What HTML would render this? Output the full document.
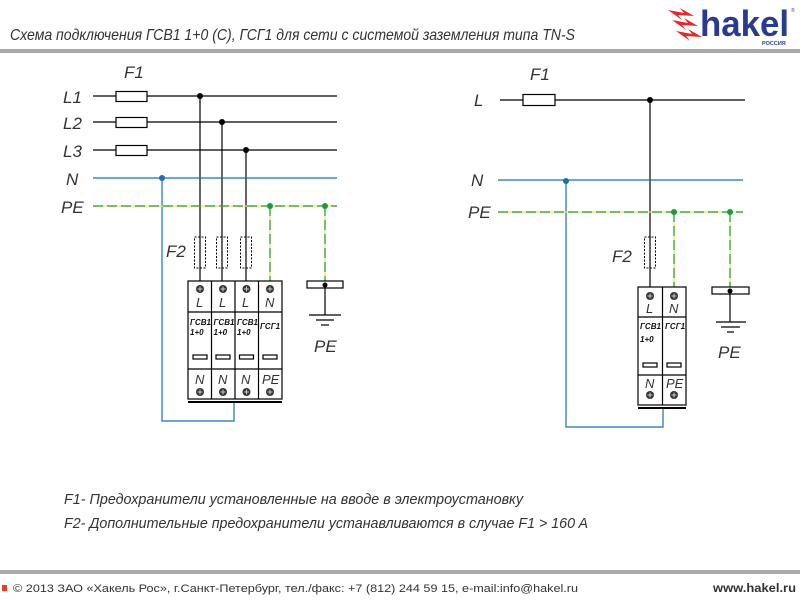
<!DOCTYPE html>
<html><head><meta charset="utf-8"><style>
html,body{margin:0;padding:0;background:#fff;}
svg{display:block;}
text{font-family:"Liberation Sans","DejaVu Sans",sans-serif;}
.it{font-style:italic;fill:#333;font-family:"Liberation Sans Narrow","Liberation Sans",sans-serif;}
</style></head><body>
<svg width="800" height="600" viewBox="0 0 800 600" xmlns="http://www.w3.org/2000/svg">
<!-- header -->
<text class="it" x="10" y="40" font-size="16" textLength="565" lengthAdjust="spacingAndGlyphs">Схема подключения ГСВ1 1+0 (C), ГСГ1 для сети с системой заземления  типа TN-S</text>
<rect x="0" y="49" width="800" height="4" fill="#a9a9a9"/>
<!-- logo -->
<g fill="#e5262a">
<polygon points="668,10 684,13 680,8 694,16 678,15 682,20"/>
<polygon points="672,20 688,23 684,18 698,26 682,25 686,30"/>
<polygon points="676,31 692,34 688,29 702,37 686,36 690,41"/>
</g>
<text x="700" y="36" font-size="36" font-weight="bold" fill="#2a3b8f" textLength="89" lengthAdjust="spacingAndGlyphs">hakel</text>
<text x="762" y="45" font-size="5.5" font-weight="bold" fill="#2a3b8f">РОССИЯ</text>
<text x="791" y="12" font-size="5" fill="#2a3b8f">®</text>

<!-- LEFT DIAGRAM -->
<g class="it" font-size="17">
<text x="124" y="78">F1</text>
<text x="63" y="103">L1</text>
<text x="63" y="129">L2</text>
<text x="63" y="157">L3</text>
<text x="66" y="185">N</text>
<text x="61" y="213">PE</text>
<text x="166" y="257">F2</text>
<text x="314" y="352">PE</text>
</g>
<g stroke="#000" stroke-width="1.2" fill="none">
<line x1="93" y1="96" x2="337" y2="96"/>
<line x1="93" y1="122" x2="337" y2="122"/>
<line x1="93" y1="150" x2="337" y2="150"/>
<rect x="116" y="91.5" width="31" height="10" fill="#fff"/>
<rect x="116" y="117.5" width="31" height="10" fill="#fff"/>
<rect x="116" y="145.5" width="31" height="10" fill="#fff"/>
<line x1="200" y1="96" x2="200" y2="281"/>
<line x1="222" y1="122" x2="222" y2="281"/>
<line x1="246" y1="150" x2="246" y2="281"/>
</g>
<g stroke="#000" stroke-width="1" fill="none" stroke-dasharray="2,1.5">
<rect x="194.5" y="237" width="11" height="31"/>
<rect x="216.5" y="237" width="11" height="31"/>
<rect x="240.5" y="237" width="11" height="31"/>
</g>
<g fill="#000"><circle cx="200" cy="96" r="3"/><circle cx="222" cy="122" r="3"/><circle cx="246" cy="150" r="3"/></g>
<!-- N blue -->
<g stroke="#1f6db3" stroke-width="1.2" fill="none">
<line x1="93" y1="178" x2="337" y2="178"/>
<polyline points="162,178 162,421 234,421 234,402"/>
</g>
<circle cx="162" cy="178" r="3" fill="#1f6db3"/>
<!-- PE -->
<g stroke-width="1.2" fill="none">
<line x1="93" y1="206" x2="337" y2="206" stroke="#f2e64a"/>
<line x1="93" y1="206" x2="337" y2="206" stroke="#1b9a3a" stroke-dasharray="10,4"/>
<line x1="270" y1="206" x2="270" y2="281" stroke="#f2e64a"/>
<line x1="270" y1="206" x2="270" y2="281" stroke="#1b9a3a" stroke-dasharray="10,4"/>
<line x1="325" y1="206" x2="325" y2="281" stroke="#f2e64a"/>
<line x1="325" y1="206" x2="325" y2="281" stroke="#1b9a3a" stroke-dasharray="10,4"/>
</g>
<g fill="#1b9a3a"><circle cx="270" cy="206" r="3"/><circle cx="325" cy="206" r="3"/></g>
<!-- ground left -->
<g stroke="#000" stroke-width="1.2" fill="none">
<rect x="307" y="281" width="36" height="7" fill="#fff"/>
<line x1="325" y1="285" x2="325" y2="315"/>
<line x1="309" y1="315" x2="341" y2="315"/>
<line x1="316" y1="320" x2="334" y2="320"/>
<line x1="321" y1="325" x2="329" y2="325"/>
</g>
<circle cx="325" cy="285" r="2.5" fill="#000"/>
<!-- left device -->
<g stroke="#000" stroke-width="1.2" fill="none">
<rect x="188" y="281" width="94" height="118" fill="#fff"/>
<line x1="211.5" y1="281" x2="211.5" y2="399"/>
<line x1="235" y1="281" x2="235" y2="399"/>
<line x1="258.5" y1="281" x2="258.5" y2="399"/>
<line x1="188" y1="312" x2="282" y2="312"/>
<line x1="188" y1="369" x2="282" y2="369"/>
<line x1="188" y1="402" x2="282" y2="402" stroke-width="2"/>
<rect x="193" y="355" width="14" height="4"/>
<rect x="216" y="355" width="14" height="4"/>
<rect x="239.5" y="355" width="14" height="4"/>
<rect x="263" y="355" width="14" height="4"/>
</g>
<g fill="#333">
<circle cx="200" cy="289" r="4"/><circle cx="223" cy="289" r="4"/><circle cx="246.5" cy="289" r="4"/><circle cx="270" cy="289" r="4"/>
<circle cx="200" cy="392" r="4"/><circle cx="223" cy="392" r="4"/><circle cx="246.5" cy="392" r="4"/><circle cx="270" cy="392" r="4"/>
</g>
<g stroke="#ccc" stroke-width="1">
<path d="M197.5 289h5M200 286.5v5M220.5 289h5M223 286.5v5M244 289h5M246.5 286.5v5M267.5 289h5M270 286.5v5"/>
<path d="M197.5 392h5M200 389.5v5M220.5 392h5M223 389.5v5M244 392h5M246.5 389.5v5M267.5 392h5M270 389.5v5"/>
</g>
<g class="it" font-size="13" fill="#333">
<text x="196" y="307">L</text><text x="219" y="307">L</text><text x="242" y="307">L</text><text x="265" y="307">N</text>
<text x="195" y="384">N</text><text x="218" y="384">N</text><text x="241" y="384">N</text><text x="262" y="384">PE</text>
</g>
<g font-size="8" font-weight="bold" font-style="italic" fill="#111">
<text x="190" y="325">ГСВ1</text><text x="190" y="335">1+0</text>
<text x="213.5" y="325">ГСВ1</text><text x="213.5" y="335">1+0</text>
<text x="237" y="325">ГСВ1</text><text x="237" y="335">1+0</text>
<text x="260" y="329">ГСГ1</text>
</g>

<!-- RIGHT DIAGRAM -->
<g class="it" font-size="17">
<text x="530" y="80">F1</text>
<text x="474" y="106">L</text>
<text x="471" y="186">N</text>
<text x="468" y="218">PE</text>
<text x="612" y="262">F2</text>
<text x="718" y="358">PE</text>
</g>
<g stroke="#000" stroke-width="1.2" fill="none">
<line x1="500" y1="100" x2="745" y2="100"/>
<rect x="523" y="94.5" width="32" height="11" fill="#fff"/>
<line x1="650" y1="100" x2="650" y2="287"/>
</g>
<rect x="644.5" y="237" width="11" height="31" fill="none" stroke="#000" stroke-width="1" stroke-dasharray="2,1.5"/>
<circle cx="650" cy="100" r="3" fill="#000"/>
<g stroke="#1f6db3" stroke-width="1.2" fill="none">
<line x1="498" y1="180" x2="743" y2="180"/>
<polyline points="566,180 566,427 663,427 663,408"/>
</g>
<circle cx="566" cy="181" r="3" fill="#1f6db3"/>
<g stroke-width="1.2" fill="none">
<line x1="498" y1="212" x2="743" y2="212" stroke="#f2e64a"/>
<line x1="498" y1="212" x2="743" y2="212" stroke="#1b9a3a" stroke-dasharray="10,4"/>
<line x1="674" y1="212" x2="674" y2="287" stroke="#f2e64a"/>
<line x1="674" y1="212" x2="674" y2="287" stroke="#1b9a3a" stroke-dasharray="10,4"/>
<line x1="730" y1="212" x2="730" y2="287" stroke="#f2e64a"/>
<line x1="730" y1="212" x2="730" y2="287" stroke="#1b9a3a" stroke-dasharray="10,4"/>
</g>
<g fill="#1b9a3a"><circle cx="674" cy="212" r="3"/><circle cx="730" cy="212" r="3"/></g>
<g stroke="#000" stroke-width="1.2" fill="none">
<rect x="712" y="287" width="37" height="7" fill="#fff"/>
<line x1="730" y1="291" x2="730" y2="322"/>
<line x1="716" y1="322" x2="746" y2="322"/>
<line x1="721" y1="327" x2="740" y2="327"/>
<line x1="727" y1="332" x2="734" y2="332"/>
</g>
<circle cx="730" cy="291" r="2.5" fill="#000"/>
<!-- right device -->
<g stroke="#000" stroke-width="1.2" fill="none">
<rect x="638" y="287" width="48" height="118" fill="#fff"/>
<line x1="662.5" y1="287" x2="662.5" y2="405"/>
<line x1="638" y1="317" x2="686" y2="317"/>
<line x1="638" y1="375" x2="686" y2="375"/>
<line x1="638" y1="408" x2="686" y2="408" stroke-width="2"/>
<rect x="643" y="363" width="14" height="4"/>
<rect x="667" y="363" width="14" height="4"/>
</g>
<g fill="#333">
<circle cx="650" cy="296" r="4"/><circle cx="674" cy="296" r="4"/>
<circle cx="650" cy="395" r="4"/><circle cx="674" cy="395" r="4"/>
</g>
<g stroke="#ccc" stroke-width="1">
<path d="M647.5 296h5M650 293.5v5M671.5 296h5M674 293.5v5M647.5 395h5M650 392.5v5M671.5 395h5M674 392.5v5"/>
</g>
<g class="it" font-size="13" fill="#333">
<text x="646" y="313">L</text><text x="669" y="313">N</text>
<text x="645" y="388">N</text><text x="666" y="388">PE</text>
</g>
<g font-size="8" font-weight="bold" font-style="italic" fill="#111">
<text x="640" y="329">ГСВ1</text><text x="640" y="342">1+0</text>
<text x="665" y="329">ГСГ1</text>
</g>

<!-- notes -->
<g class="it" font-size="15">
<text x="64" y="504" textLength="459" lengthAdjust="spacingAndGlyphs">F1- Предохранители установленные на вводе в электроустановку</text>
<text x="64" y="528" textLength="524" lengthAdjust="spacingAndGlyphs">F2- Дополнительные предохранители устанавливаются в случае F1 &gt; 160 A</text>
</g>

<!-- footer -->
<rect x="0" y="570" width="800" height="4" fill="#a9a9a9"/>
<rect x="2" y="585" width="5" height="6" fill="#e2401f"/>
<text x="13" y="592" font-size="11" fill="#333" font-family="DejaVu Sans, sans-serif" textLength="565" lengthAdjust="spacingAndGlyphs">© 2013 ЗАО «Хакель Рос», г.Санкт-Петербург, тел./факс: +7 (812) 244 59 15, e-mail:info@hakel.ru</text>
<text x="713" y="592" font-size="12" fill="#333" font-weight="bold" textLength="83" lengthAdjust="spacingAndGlyphs">www.hakel.ru</text>
</svg>
</body></html>
